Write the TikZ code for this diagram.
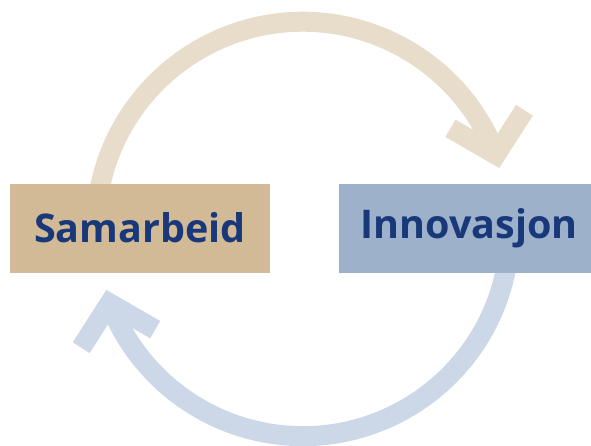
\documentclass[tikz,border=0pt]{standalone}
\usepackage{fontspec}
\setmainfont{Open Sans}
\usetikzlibrary{calc}
\pgfdeclarelayer{background}
\pgfsetlayers{background,main}

\definecolor{sandbox}{HTML}{D1BA95}
\definecolor{sandarc}{HTML}{E8DDCA}
\definecolor{skybox}{HTML}{9DB1CB}
\definecolor{skyarc}{HTML}{CCD8E7}
\definecolor{navytext}{HTML}{18387A}

\tikzset{
  box/.style={minimum width=260pt, minimum height=89pt, inner sep=0pt,
    text=navytext, font=\fontsize{39.5}{46}\selectfont\bfseries},
  loop/.style={line width=20pt},
  barb/.style={line width=20pt, line join=miter},
}

\begin{document}
\begin{tikzpicture}[x=1pt,y=1pt]
  \useasboundingbox (0,0) rectangle (591,445);
  \coordinate (mid) at (303,216);

  \node[box, fill=sandbox] (sam) at (140,216.5) {\raisebox{2pt}{Samarbeid}};
  \node[box, fill=skybox] (inn) at (469,216.5) {\raisebox{2pt}{Innovasjon}};

  \begin{pgfonlayer}{background}
    % top arrow
    \draw[loop, sandarc] ($(sam.north west)+(89.1,-9)$)
      arc[start angle=170, end angle=21, radius=207] coordinate (tipa);
    \draw[barb, sandarc] ($(tipa)+(-45.6,26.3)$) -- (tipa) -- ($(tipa)+(28.4,44.3)$);

    % bottom arrow
    \draw[loop, skyarc] ($(inn.south west)+(167.9,8.1)$)
      arc[start angle=-10, end angle=-159, radius=207] coordinate (tipb);
    \draw[barb, skyarc] ($(tipb)+(45.6,-26.3)$) -- (tipb) -- ($(tipb)+(-28.4,-44.3)$);
  \end{pgfonlayer}
\end{tikzpicture}
\end{document}
